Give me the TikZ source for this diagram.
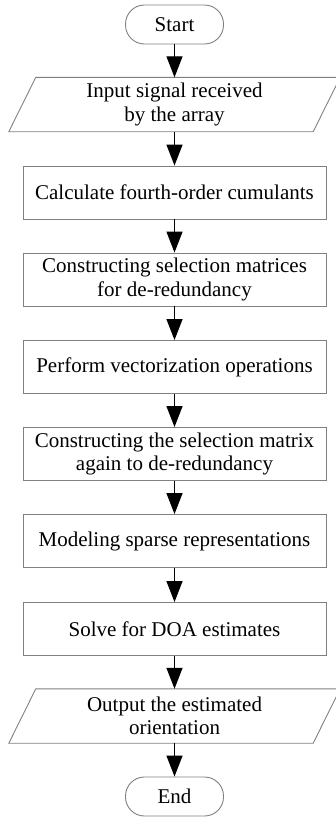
\documentclass[tikz,border=0pt]{standalone}
\usepackage{fontspec}
\setmainfont{Liberation Serif}
\usetikzlibrary{arrows.meta}
\definecolor{boxgray}{RGB}{128,128,128}
\tikzset{
  boxline/.style={draw=boxgray, line width=0.9pt},
  procbox/.style={boxline, rectangle, minimum width=303pt, minimum height=53pt, inner sep=0pt, align=center, font=\fontsize{21}{23.5}\selectfont},
  iobox/.style={rectangle, draw=none, minimum width=304pt, minimum height=54pt, inner sep=0pt, align=center, font=\fontsize{21}{23.5}\selectfont},
  termbox/.style={boxline, rectangle, rounded corners=19pt, minimum width=98pt, minimum height=39pt, inner sep=0pt, font=\fontsize{21}{23.5}\selectfont},
  flow/.style={black, line width=1.3pt, -{Triangle[width=16pt,length=21pt]}}
}
\begin{document}
\begin{tikzpicture}[x=1pt,y=1pt]
\useasboundingbox (0,0) rectangle (336,-817);
\clip (0,0) rectangle (336,-817);
\node[termbox] (start) at (174.5,-24.5) {Start};
\node[iobox] (in) at (174.5,-104.5) {Input signal received\\by the array};
\draw[boxline] ([xshift=13.5pt]in.north west) -- ([xshift=13.5pt]in.north east) -- ([xshift=-13.5pt]in.south east) -- ([xshift=-13.5pt]in.south west) -- cycle;
\node[procbox] (r1) at (174.5,-192.5) {Calculate fourth-order cumulants};
\node[procbox] (r2) at (174.5,-279.5) {Constructing selection matrices\\for de-redundancy};
\node[procbox] (r3) at (174.5,-367) {Perform vectorization operations};
\node[procbox] (r4) at (174.5,-454) {Constructing the selection matrix\\again to de-redundancy};
\node[procbox] (r5) at (174.5,-541) {Modeling sparse representations};
\node[procbox] (r6) at (174.5,-629) {Solve for DOA estimates};
\node[iobox] (out) at (174.5,-716) {Output the estimated\\orientation};
\draw[boxline] ([xshift=13.5pt]out.north west) -- ([xshift=13.5pt]out.north east) -- ([xshift=-13.5pt]out.south east) -- ([xshift=-13.5pt]out.south west) -- cycle;
\node[termbox] (end) at (174.5,-796.5) {End};
\draw[flow] (start.south) -- (in.north);
\draw[flow] (in.south) -- (r1.north);
\draw[flow] (r1.south) -- (r2.north);
\draw[flow] (r2.south) -- (r3.north);
\draw[flow] (r3.south) -- (r4.north);
\draw[flow] (r4.south) -- (r5.north);
\draw[flow] (r5.south) -- (r6.north);
\draw[flow] (r6.south) -- (out.north);
\draw[flow] (out.south) -- (end.north);
\end{tikzpicture}
\end{document}
